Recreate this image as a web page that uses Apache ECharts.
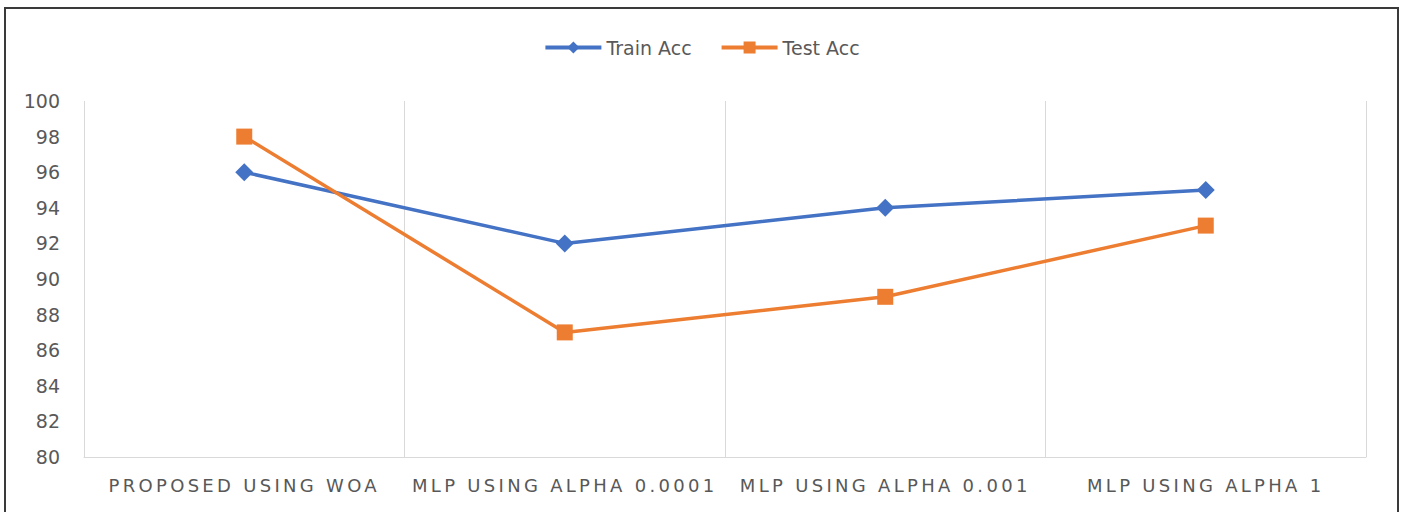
<!DOCTYPE html>
<html>
<head>
<meta charset="utf-8">
<script src="https://cdn.jsdelivr.net/npm/echarts@6/dist/echarts.min.js"></script>
<style>
  html, body { margin: 0; padding: 0; background: #fff; }
  #chart { width: 1403px; height: 512px; }
  /* spaced-out capitals on the category labels */
  #chart text[fill="#585858"], #chart text[fill="rgb(88,88,88)"] { letter-spacing: 3.3px; }
</style>
</head>
<body>
<div id="chart"></div>
<script>
const categories = ['PROPOSED USING WOA', 'MLP USING ALPHA 0.0001', 'MLP USING ALPHA 0.001', 'MLP USING ALPHA 1'];
const trainAcc = [96, 92, 94, 95];
const testAcc = [98, 87, 89, 93];
const yMin = 80, yMax = 100, yStep = 2;

const chart = echarts.init(document.getElementById('chart'), null, { renderer: 'svg' });

chart.setOption({
  animation: false,
  backgroundColor: '#ffffff',
  graphic: [{
    type: 'rect',
    silent: true,
    shape: { x: 5, y: 8, width: 1393, height: 530 },
    style: { fill: 'none', stroke: '#3a3a3a', lineWidth: 2 }
  }],
  legend: {
    top: 33,
    left: 'center',
    itemWidth: 56,
    itemHeight: 15,
    itemGap: 28,
    lineStyle: { width: 4 },
    textStyle: { color: '#595959', fontSize: 19, fontFamily: 'DejaVu Sans' }
  },
  grid: { left: 84, right: 37, top: 101, bottom: 55, containLabel: false },
  xAxis: {
    type: 'category',
    data: categories,
    boundaryGap: true,
    axisLine: { show: true, lineStyle: { color: '#d9d9d9', width: 1 } },
    axisTick: { show: false },
    splitLine: { show: true, lineStyle: { color: '#d9d9d9', width: 1 } },
    axisLabel: {
      interval: 0,
      margin: 19,
      color: '#585858',
      fontSize: 18,
      fontFamily: 'DejaVu Sans'
    }
  },
  yAxis: {
    type: 'value',
    min: yMin,
    max: yMax,
    interval: yStep,
    axisLine: { show: false },
    axisTick: { show: false },
    splitLine: { show: false },
    axisLabel: { margin: 24, color: '#595959', fontSize: 19, fontFamily: 'DejaVu Sans' }
  },
  series: [
    {
      name: 'Train Acc',
      type: 'line',
      data: trainAcc,
      symbol: 'diamond',
      symbolSize: 18,
      lineStyle: { color: '#4472C4', width: 3.5 },
      itemStyle: { color: '#4472C4' }
    },
    {
      name: 'Test Acc',
      type: 'line',
      data: testAcc,
      symbol: 'rect',
      symbolSize: 16,
      lineStyle: { color: '#ED7D31', width: 3.5 },
      itemStyle: { color: '#ED7D31' }
    }
  ]
});
</script>
</body>
</html>
